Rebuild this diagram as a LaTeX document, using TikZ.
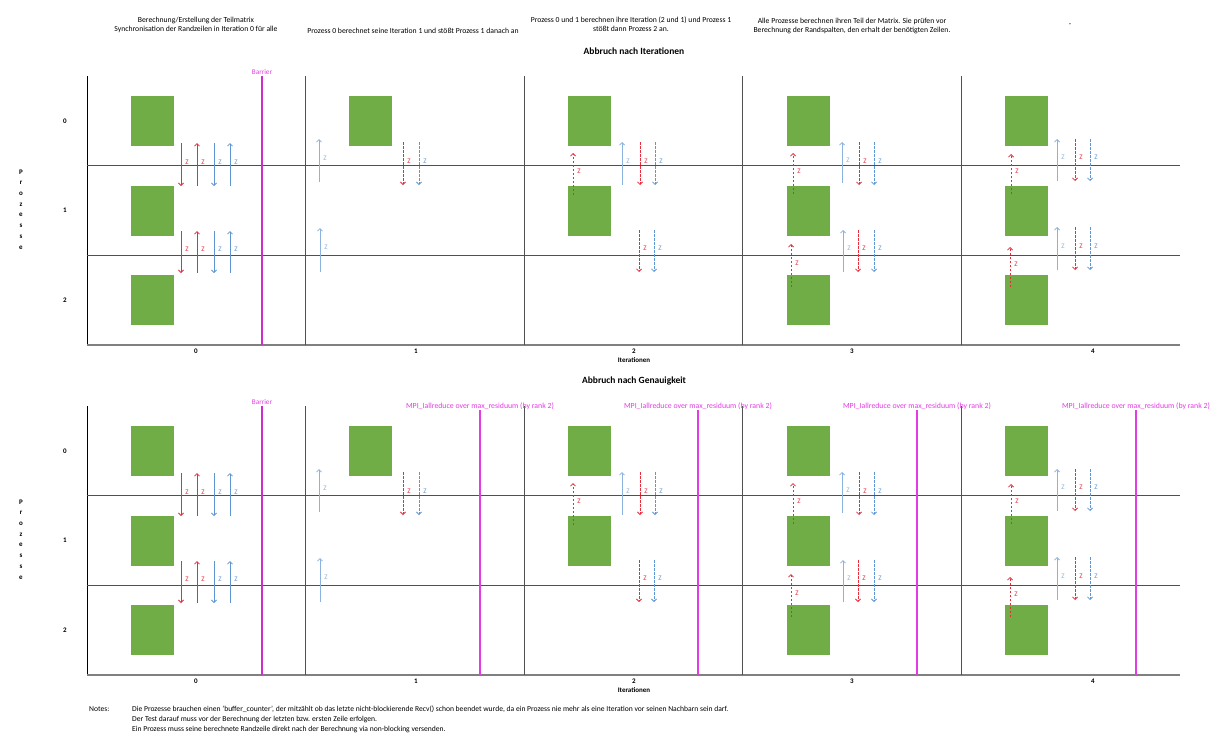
\documentclass[tikz,border=0pt]{standalone}
\usepackage{fontspec}
\setmainfont{Carlito}
\usepackage{xcolor}
\definecolor{mlgreen}{RGB}{112,173,71}
\definecolor{zred}{RGB}{230,45,60}
\definecolor{zblue}{RGB}{95,150,210}
\definecolor{zlight}{RGB}{140,178,222}
\definecolor{barriermag}{RGB}{204,45,204}
\definecolor{mpimag}{RGB}{228,60,228}
\definecolor{gridgray}{RGB}{80,80,80}
\usetikzlibrary{arrows.meta,positioning}

\tikzset{
  teil/.style={fill=mlgreen,minimum width=43pt,minimum height=50pt,inner sep=0pt,anchor=north west},
  zbase/.style={line width=.75pt,-{Straight Barb[length=2.5pt,width=5pt]}},
  zr/.style={zbase,color=zred},
  zrd/.style={zbase,color=zred,line width=.85pt,dash pattern=on 2.5pt off 1.5pt},
  zb/.style={zbase,color=zblue},
  zbd/.style={zbase,color=zblue,line width=.85pt,dash pattern=on 2.5pt off 1.5pt},
  zbl/.style={zbase,color=zlight},
  zlab/.style={midway,right,inner sep=1pt,xshift=3pt,yshift=2.5pt,font=\fontsize{7}{8}\selectfont},
  kopf/.style={font=\fontsize{7.7}{9}\selectfont,align=center,inner sep=0pt},
  titel/.style={font=\bfseries\fontsize{9.5}{11}\selectfont,inner sep=0pt},
  achse/.style={font=\bfseries\fontsize{7}{8}\selectfont,inner sep=0pt},
  buchst/.style={font=\bfseries\fontsize{7}{8}\selectfont,inner sep=0pt},
  maglab/.style={text=mpimag,font=\fontsize{7.2}{8}\selectfont,inner sep=0pt},
  mpilab/.style={maglab,font=\fontsize{7.8}{9}\selectfont},
  notiz/.style={font=\fontsize{7.6}{9}\selectfont,inner sep=0pt,anchor=base west}
}

\newcommand{\iterpanel}[2]{%
  \node[titel] (#2title) at (634,51) {#1};
  \draw[black,line width=1pt] (87,76) -- (87,345);
  \draw[gray,line width=1.2pt] (87,345) -- (1180,345);
  \foreach \y in {165,255} \draw[gridgray,line width=.8pt] (87,\y) -- (1180,\y);
  \foreach \x in {305,524,742,961} \draw[gridgray,line width=.8pt] (\x,76) -- (\x,345);
  \draw[barriermag,line width=2.4pt] (262,76) -- (262,345);
  \node[maglab] (#2bar) at (262,72) {Barrier};
  \foreach \r/\y in {0/121,1/210,2/300} \node[achse] (#2row\r) at (65,\y) {\r};
  \foreach \l [count=\i] in {P,r,o,z,e,s,s,e} \node[buchst] (#2p\i) at (21,161.2+10.8*\i) {\l};
  \foreach \c/\x in {0/196,1/416,2/634,3/852,4/1093} \node[achse] (#2it\c) at (\x,351) {\c};
  \node[achse] (#2iter) at (634,360) {Iterationen};
  \foreach \n/\x/\y in {a/131/96,b/131/186,c/131/275,d/349/96,e/568/96,f/568/186,
      g/787/96,h/787/186,i/787/275,j/1005/96,k/1005/186,l/1005/275}
    \node[teil] (#2\n) at (\x,\y) {};
  \foreach \n/\x/\ya/\yb/\st in {
      1/181/143/186/zr, 2/197/186/143/zr, 3/214/143/186/zb, 4/230/186/143/zb,
      5/181/231/273/zr, 6/197/273/231/zr, 7/214/231/273/zb, 8/230/273/231/zb,
      9/319/182/139/zbl, 10/403/142/185/zrd, 11/419/142/185/zbd, 12/320/272/228/zbl,
      13/573/195/153/zrd, 14/622/185/142/zbl, 15/640/142/185/zrd, 16/655/142/185/zbd,
      17/639/230/272/zrd, 18/654/230/272/zbd,
      19/793/194/153/zrd, 20/842/183/142/zbl, 21/859/142/185/zrd, 22/874/142/185/zbd,
      23/791/287/244/zrd, 24/843/272/230/zbl, 25/858/230/272/zrd, 26/874/230/272/zbd,
      27/1011/194/154/zrd, 28/1057/181/139/zbl, 29/1075/139/181/zrd, 30/1090/139/181/zbd,
      31/1010/287/247/zrd, 32/1057/270/227/zbl, 33/1075/227/270/zrd, 34/1090/227/270/zbd}{
    \coordinate (#2z\n-s) at (\x,\ya);
    \coordinate (#2z\n-e) at (\x,\yb);
    \draw[\st] (#2z\n-s) -- (#2z\n-e) node[zlab]{Z};
  }
}

\begin{document}
\begin{tikzpicture}[x=1pt,y=-1pt]
  \useasboundingbox[fill=white] (0,0) rectangle (1219,737);

  \node[kopf] (h1) at (196,24.5) {Berechnung/Erstellung der Teilmatrix\\Synchronisation der Randzeilen in Iteration 0 für alle};
  \node[kopf] (h2) at (413,31) {Prozess 0 berechnet seine Iteration 1 und stößt Prozess 1 danach an};
  \node[kopf] (h3) at (631,24.5) {Prozess 0 und 1 berechnen ihre Iteration (2 und 1) und Prozess 1\\stößt dann Prozess 2 an.};
  \node[kopf] (h4) at (852,25.5) {Alle Prozesse berechnen ihren Teil der Matrix. Sie prüfen vor\\Berechnung der Randspalten, den erhalt der benötigten Zeilen.};
  \node[kopf] (h5) at (1070,25) {-};

  \iterpanel{Abbruch nach Iterationen}{o}
  \begin{scope}[yshift=-330pt]
    \iterpanel{Abbruch nach Genauigkeit}{u}
    \foreach \x [count=\i] in {480,698,917,1136}{
      \draw[mpimag,line width=1.8pt] (\x,80) -- (\x,345);
      \node[mpilab] (mpi\i) at (\x,76) {MPI\_Iallreduce over max\_residuum (by rank 2)};
    }
  \end{scope}

  \node[notiz] (notes) at (89,711.5) {Notes:};
  \node[notiz] (n1) at (132,711.5) {Die Prozesse brauchen einen 'buffer\_counter', der mitzählt ob das letzte nicht-blockierende Recv() schon beendet wurde, da ein Prozess nie mehr als eine Iteration vor seinen Nachbarn sein darf.};
  \node[notiz] (n2) at (132,721.5) {Der Test darauf muss vor der Berechnung der letzten bzw. ersten Zeile erfolgen.};
  \node[notiz] (n3) at (132,731.5) {Ein Prozess muss seine berechnete Randzeile direkt nach der Berechnung via non-blocking versenden.};
\end{tikzpicture}
\end{document}
